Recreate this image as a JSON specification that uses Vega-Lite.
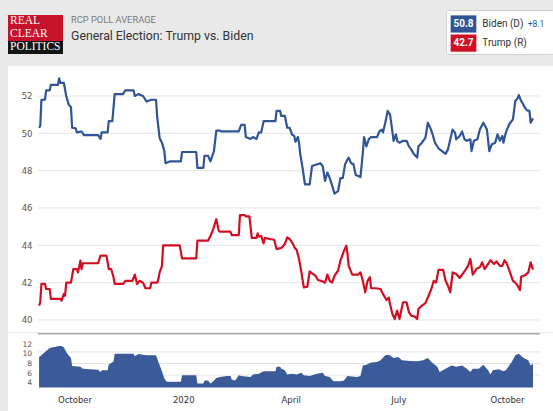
{
  "$schema": "https://vega.github.io/schema/vega-lite/v6.json",
  "background": "#e9e9e9",
  "padding": {"left": 8, "top": 9, "right": 0, "bottom": 0},
  "spacing": 0,
  "config": {"view": {"stroke": null}, "font": "Roboto", "axis": {"labelOverlap": false}},
  "datasets": {
    "logo": [{"word": "REAL"}, {"word": "CLEAR"}, {"word": "POLITICS"}],
    "legend": [
      {"candidate": "Biden (D)", "pct": "50.8", "lead": "+8.1"},
      {"candidate": "Trump (R)", "pct": "42.7", "lead": ""}
    ],
    "grid": [{"level": 40}, {"level": 42}, {"level": 44}, {"level": 46}, {"level": 48}, {"level": 50}, {"level": 52}],
    "spreadGrid": [{"level": 10.5}, {"level": 8.1}, {"level": 5.7}],
    "spreadTicks": [{"level": 4}, {"level": 6}, {"level": 8}, {"level": 10}, {"level": 12}],
    "polls": [
      {"date": "2019-09-01", "candidate": "Biden", "pct": 50.3},
      {"date": "2019-09-02", "candidate": "Biden", "pct": 50.4},
      {"date": "2019-09-03", "candidate": "Biden", "pct": 51.8},
      {"date": "2019-09-06", "candidate": "Biden", "pct": 51.8},
      {"date": "2019-09-07", "candidate": "Biden", "pct": 52.3},
      {"date": "2019-09-10", "candidate": "Biden", "pct": 52.3},
      {"date": "2019-09-11", "candidate": "Biden", "pct": 52.6},
      {"date": "2019-09-17", "candidate": "Biden", "pct": 52.6},
      {"date": "2019-09-18", "candidate": "Biden", "pct": 52.95},
      {"date": "2019-09-19", "candidate": "Biden", "pct": 52.7},
      {"date": "2019-09-22", "candidate": "Biden", "pct": 52.7},
      {"date": "2019-09-24", "candidate": "Biden", "pct": 52.0},
      {"date": "2019-09-26", "candidate": "Biden", "pct": 51.55},
      {"date": "2019-09-28", "candidate": "Biden", "pct": 51.4},
      {"date": "2019-09-29", "candidate": "Biden", "pct": 50.3},
      {"date": "2019-10-02", "candidate": "Biden", "pct": 50.27},
      {"date": "2019-10-03", "candidate": "Biden", "pct": 50.05},
      {"date": "2019-10-07", "candidate": "Biden", "pct": 50.1},
      {"date": "2019-10-09", "candidate": "Biden", "pct": 49.9},
      {"date": "2019-10-21", "candidate": "Biden", "pct": 49.9},
      {"date": "2019-10-23", "candidate": "Biden", "pct": 49.7},
      {"date": "2019-10-24", "candidate": "Biden", "pct": 50.05},
      {"date": "2019-10-29", "candidate": "Biden", "pct": 50.05},
      {"date": "2019-10-30", "candidate": "Biden", "pct": 50.65},
      {"date": "2019-11-02", "candidate": "Biden", "pct": 50.65},
      {"date": "2019-11-04", "candidate": "Biden", "pct": 52.1},
      {"date": "2019-11-11", "candidate": "Biden", "pct": 52.1},
      {"date": "2019-11-13", "candidate": "Biden", "pct": 52.3},
      {"date": "2019-11-20", "candidate": "Biden", "pct": 52.3},
      {"date": "2019-11-21", "candidate": "Biden", "pct": 52.0},
      {"date": "2019-11-24", "candidate": "Biden", "pct": 52.1},
      {"date": "2019-11-28", "candidate": "Biden", "pct": 52.0},
      {"date": "2019-12-01", "candidate": "Biden", "pct": 51.7},
      {"date": "2019-12-05", "candidate": "Biden", "pct": 51.8},
      {"date": "2019-12-09", "candidate": "Biden", "pct": 51.8},
      {"date": "2019-12-10", "candidate": "Biden", "pct": 50.85},
      {"date": "2019-12-12", "candidate": "Biden", "pct": 49.75},
      {"date": "2019-12-14", "candidate": "Biden", "pct": 49.5},
      {"date": "2019-12-16", "candidate": "Biden", "pct": 49.05},
      {"date": "2019-12-17", "candidate": "Biden", "pct": 48.4},
      {"date": "2019-12-21", "candidate": "Biden", "pct": 48.5},
      {"date": "2019-12-30", "candidate": "Biden", "pct": 48.5},
      {"date": "2019-12-31", "candidate": "Biden", "pct": 49.0},
      {"date": "2020-01-12", "candidate": "Biden", "pct": 49.0},
      {"date": "2020-01-13", "candidate": "Biden", "pct": 48.15},
      {"date": "2020-01-18", "candidate": "Biden", "pct": 48.15},
      {"date": "2020-01-19", "candidate": "Biden", "pct": 48.8},
      {"date": "2020-01-22", "candidate": "Biden", "pct": 48.8},
      {"date": "2020-01-24", "candidate": "Biden", "pct": 48.5},
      {"date": "2020-01-27", "candidate": "Biden", "pct": 49.05},
      {"date": "2020-01-29", "candidate": "Biden", "pct": 50.15},
      {"date": "2020-02-01", "candidate": "Biden", "pct": 50.15},
      {"date": "2020-02-02", "candidate": "Biden", "pct": 50.1},
      {"date": "2020-02-17", "candidate": "Biden", "pct": 50.1},
      {"date": "2020-02-19", "candidate": "Biden", "pct": 50.45},
      {"date": "2020-02-22", "candidate": "Biden", "pct": 50.45},
      {"date": "2020-02-23", "candidate": "Biden", "pct": 49.8},
      {"date": "2020-02-27", "candidate": "Biden", "pct": 49.7},
      {"date": "2020-02-29", "candidate": "Biden", "pct": 49.8},
      {"date": "2020-03-03", "candidate": "Biden", "pct": 49.7},
      {"date": "2020-03-05", "candidate": "Biden", "pct": 50.05},
      {"date": "2020-03-07", "candidate": "Biden", "pct": 50.05},
      {"date": "2020-03-09", "candidate": "Biden", "pct": 50.65},
      {"date": "2020-03-19", "candidate": "Biden", "pct": 50.65},
      {"date": "2020-03-20", "candidate": "Biden", "pct": 51.2},
      {"date": "2020-03-23", "candidate": "Biden", "pct": 51.2},
      {"date": "2020-03-24", "candidate": "Biden", "pct": 50.93},
      {"date": "2020-03-27", "candidate": "Biden", "pct": 50.93},
      {"date": "2020-03-29", "candidate": "Biden", "pct": 50.3},
      {"date": "2020-03-31", "candidate": "Biden", "pct": 50.3},
      {"date": "2020-04-02", "candidate": "Biden", "pct": 49.95},
      {"date": "2020-04-04", "candidate": "Biden", "pct": 49.85},
      {"date": "2020-04-05", "candidate": "Biden", "pct": 49.55},
      {"date": "2020-04-07", "candidate": "Biden", "pct": 49.8},
      {"date": "2020-04-08", "candidate": "Biden", "pct": 49.5},
      {"date": "2020-04-09", "candidate": "Biden", "pct": 48.9},
      {"date": "2020-04-11", "candidate": "Biden", "pct": 48.15},
      {"date": "2020-04-13", "candidate": "Biden", "pct": 47.27},
      {"date": "2020-04-17", "candidate": "Biden", "pct": 47.27},
      {"date": "2020-04-19", "candidate": "Biden", "pct": 48.25},
      {"date": "2020-04-26", "candidate": "Biden", "pct": 48.4},
      {"date": "2020-04-28", "candidate": "Biden", "pct": 48.25},
      {"date": "2020-04-30", "candidate": "Biden", "pct": 47.45},
      {"date": "2020-05-02", "candidate": "Biden", "pct": 47.9},
      {"date": "2020-05-04", "candidate": "Biden", "pct": 47.6},
      {"date": "2020-05-06", "candidate": "Biden", "pct": 47.2},
      {"date": "2020-05-08", "candidate": "Biden", "pct": 46.77},
      {"date": "2020-05-11", "candidate": "Biden", "pct": 46.9},
      {"date": "2020-05-13", "candidate": "Biden", "pct": 47.6},
      {"date": "2020-05-15", "candidate": "Biden", "pct": 47.6},
      {"date": "2020-05-17", "candidate": "Biden", "pct": 48.35},
      {"date": "2020-05-19", "candidate": "Biden", "pct": 48.6},
      {"date": "2020-05-20", "candidate": "Biden", "pct": 48.7},
      {"date": "2020-05-22", "candidate": "Biden", "pct": 48.4},
      {"date": "2020-05-24", "candidate": "Biden", "pct": 48.35},
      {"date": "2020-05-26", "candidate": "Biden", "pct": 47.77},
      {"date": "2020-05-30", "candidate": "Biden", "pct": 47.66},
      {"date": "2020-06-01", "candidate": "Biden", "pct": 48.96},
      {"date": "2020-06-02", "candidate": "Biden", "pct": 49.8},
      {"date": "2020-06-04", "candidate": "Biden", "pct": 49.3},
      {"date": "2020-06-06", "candidate": "Biden", "pct": 49.68},
      {"date": "2020-06-08", "candidate": "Biden", "pct": 49.8},
      {"date": "2020-06-13", "candidate": "Biden", "pct": 49.8},
      {"date": "2020-06-15", "candidate": "Biden", "pct": 50.1},
      {"date": "2020-06-17", "candidate": "Biden", "pct": 50.2},
      {"date": "2020-06-18", "candidate": "Biden", "pct": 50.05},
      {"date": "2020-06-20", "candidate": "Biden", "pct": 50.57},
      {"date": "2020-06-22", "candidate": "Biden", "pct": 51.2},
      {"date": "2020-06-24", "candidate": "Biden", "pct": 51.0},
      {"date": "2020-06-25", "candidate": "Biden", "pct": 50.57},
      {"date": "2020-06-27", "candidate": "Biden", "pct": 49.6},
      {"date": "2020-06-29", "candidate": "Biden", "pct": 49.95},
      {"date": "2020-06-30", "candidate": "Biden", "pct": 49.6},
      {"date": "2020-07-02", "candidate": "Biden", "pct": 49.5},
      {"date": "2020-07-05", "candidate": "Biden", "pct": 49.6},
      {"date": "2020-07-08", "candidate": "Biden", "pct": 49.6},
      {"date": "2020-07-10", "candidate": "Biden", "pct": 49.3},
      {"date": "2020-07-12", "candidate": "Biden", "pct": 49.14},
      {"date": "2020-07-14", "candidate": "Biden", "pct": 48.9},
      {"date": "2020-07-17", "candidate": "Biden", "pct": 48.7},
      {"date": "2020-07-18", "candidate": "Biden", "pct": 49.3},
      {"date": "2020-07-21", "candidate": "Biden", "pct": 49.5},
      {"date": "2020-07-24", "candidate": "Biden", "pct": 49.77},
      {"date": "2020-07-26", "candidate": "Biden", "pct": 50.57},
      {"date": "2020-07-28", "candidate": "Biden", "pct": 50.3},
      {"date": "2020-07-30", "candidate": "Biden", "pct": 49.95},
      {"date": "2020-08-01", "candidate": "Biden", "pct": 49.5},
      {"date": "2020-08-04", "candidate": "Biden", "pct": 49.2},
      {"date": "2020-08-07", "candidate": "Biden", "pct": 49.05},
      {"date": "2020-08-10", "candidate": "Biden", "pct": 48.9},
      {"date": "2020-08-12", "candidate": "Biden", "pct": 49.14},
      {"date": "2020-08-14", "candidate": "Biden", "pct": 49.68},
      {"date": "2020-08-16", "candidate": "Biden", "pct": 50.2},
      {"date": "2020-08-18", "candidate": "Biden", "pct": 50.04},
      {"date": "2020-08-19", "candidate": "Biden", "pct": 49.68},
      {"date": "2020-08-22", "candidate": "Biden", "pct": 49.86},
      {"date": "2020-08-24", "candidate": "Biden", "pct": 50.1},
      {"date": "2020-08-26", "candidate": "Biden", "pct": 49.68},
      {"date": "2020-08-28", "candidate": "Biden", "pct": 49.6},
      {"date": "2020-08-31", "candidate": "Biden", "pct": 49.68},
      {"date": "2020-09-01", "candidate": "Biden", "pct": 49.05},
      {"date": "2020-09-03", "candidate": "Biden", "pct": 49.6},
      {"date": "2020-09-06", "candidate": "Biden", "pct": 49.68},
      {"date": "2020-09-08", "candidate": "Biden", "pct": 50.2},
      {"date": "2020-09-11", "candidate": "Biden", "pct": 50.57},
      {"date": "2020-09-14", "candidate": "Biden", "pct": 50.2},
      {"date": "2020-09-16", "candidate": "Biden", "pct": 49.05},
      {"date": "2020-09-18", "candidate": "Biden", "pct": 49.4},
      {"date": "2020-09-21", "candidate": "Biden", "pct": 49.5},
      {"date": "2020-09-23", "candidate": "Biden", "pct": 49.95},
      {"date": "2020-09-25", "candidate": "Biden", "pct": 49.6},
      {"date": "2020-09-27", "candidate": "Biden", "pct": 49.86},
      {"date": "2020-09-28", "candidate": "Biden", "pct": 49.5},
      {"date": "2020-09-30", "candidate": "Biden", "pct": 50.04},
      {"date": "2020-10-03", "candidate": "Biden", "pct": 50.5},
      {"date": "2020-10-06", "candidate": "Biden", "pct": 50.75},
      {"date": "2020-10-08", "candidate": "Biden", "pct": 51.73},
      {"date": "2020-10-10", "candidate": "Biden", "pct": 51.88},
      {"date": "2020-10-11", "candidate": "Biden", "pct": 52.05},
      {"date": "2020-10-13", "candidate": "Biden", "pct": 51.73},
      {"date": "2020-10-14", "candidate": "Biden", "pct": 51.64},
      {"date": "2020-10-16", "candidate": "Biden", "pct": 51.38},
      {"date": "2020-10-18", "candidate": "Biden", "pct": 51.23},
      {"date": "2020-10-20", "candidate": "Biden", "pct": 51.2},
      {"date": "2020-10-21", "candidate": "Biden", "pct": 50.57},
      {"date": "2020-10-23", "candidate": "Biden", "pct": 50.8},
      {"date": "2019-09-01", "candidate": "Trump", "pct": 40.77},
      {"date": "2019-09-02", "candidate": "Trump", "pct": 40.95},
      {"date": "2019-09-03", "candidate": "Trump", "pct": 41.93},
      {"date": "2019-09-06", "candidate": "Trump", "pct": 41.93},
      {"date": "2019-09-07", "candidate": "Trump", "pct": 41.66},
      {"date": "2019-09-10", "candidate": "Trump", "pct": 41.66},
      {"date": "2019-09-11", "candidate": "Trump", "pct": 41.13},
      {"date": "2019-09-19", "candidate": "Trump", "pct": 41.13},
      {"date": "2019-09-20", "candidate": "Trump", "pct": 41.04},
      {"date": "2019-09-22", "candidate": "Trump", "pct": 41.4},
      {"date": "2019-09-23", "candidate": "Trump", "pct": 41.3},
      {"date": "2019-09-24", "candidate": "Trump", "pct": 42.0},
      {"date": "2019-09-28", "candidate": "Trump", "pct": 42.0},
      {"date": "2019-09-30", "candidate": "Trump", "pct": 42.73},
      {"date": "2019-10-03", "candidate": "Trump", "pct": 42.73},
      {"date": "2019-10-04", "candidate": "Trump", "pct": 42.55},
      {"date": "2019-10-06", "candidate": "Trump", "pct": 43.18},
      {"date": "2019-10-07", "candidate": "Trump", "pct": 42.73},
      {"date": "2019-10-08", "candidate": "Trump", "pct": 43.04},
      {"date": "2019-10-21", "candidate": "Trump", "pct": 43.04},
      {"date": "2019-10-23", "candidate": "Trump", "pct": 43.45},
      {"date": "2019-10-28", "candidate": "Trump", "pct": 43.45},
      {"date": "2019-10-30", "candidate": "Trump", "pct": 42.73},
      {"date": "2019-11-01", "candidate": "Trump", "pct": 42.73},
      {"date": "2019-11-03", "candidate": "Trump", "pct": 42.3},
      {"date": "2019-11-04", "candidate": "Trump", "pct": 41.93},
      {"date": "2019-11-11", "candidate": "Trump", "pct": 41.93},
      {"date": "2019-11-13", "candidate": "Trump", "pct": 42.1},
      {"date": "2019-11-19", "candidate": "Trump", "pct": 42.1},
      {"date": "2019-11-21", "candidate": "Trump", "pct": 42.43},
      {"date": "2019-11-23", "candidate": "Trump", "pct": 41.93},
      {"date": "2019-11-25", "candidate": "Trump", "pct": 42.1},
      {"date": "2019-11-28", "candidate": "Trump", "pct": 42.0},
      {"date": "2019-11-30", "candidate": "Trump", "pct": 41.7},
      {"date": "2019-12-04", "candidate": "Trump", "pct": 41.7},
      {"date": "2019-12-05", "candidate": "Trump", "pct": 42.0},
      {"date": "2019-12-10", "candidate": "Trump", "pct": 42.0},
      {"date": "2019-12-11", "candidate": "Trump", "pct": 42.2},
      {"date": "2019-12-12", "candidate": "Trump", "pct": 42.55},
      {"date": "2019-12-14", "candidate": "Trump", "pct": 42.9},
      {"date": "2019-12-15", "candidate": "Trump", "pct": 44.0},
      {"date": "2019-12-29", "candidate": "Trump", "pct": 44.0},
      {"date": "2019-12-31", "candidate": "Trump", "pct": 43.3},
      {"date": "2020-01-12", "candidate": "Trump", "pct": 43.3},
      {"date": "2020-01-13", "candidate": "Trump", "pct": 44.25},
      {"date": "2020-01-22", "candidate": "Trump", "pct": 44.25},
      {"date": "2020-01-24", "candidate": "Trump", "pct": 44.5},
      {"date": "2020-01-26", "candidate": "Trump", "pct": 44.8},
      {"date": "2020-01-29", "candidate": "Trump", "pct": 45.4},
      {"date": "2020-01-31", "candidate": "Trump", "pct": 44.8},
      {"date": "2020-02-01", "candidate": "Trump", "pct": 44.73},
      {"date": "2020-02-10", "candidate": "Trump", "pct": 44.73},
      {"date": "2020-02-11", "candidate": "Trump", "pct": 44.55},
      {"date": "2020-02-17", "candidate": "Trump", "pct": 44.55},
      {"date": "2020-02-18", "candidate": "Trump", "pct": 45.62},
      {"date": "2020-02-22", "candidate": "Trump", "pct": 45.62},
      {"date": "2020-02-23", "candidate": "Trump", "pct": 45.55},
      {"date": "2020-02-26", "candidate": "Trump", "pct": 45.55},
      {"date": "2020-02-28", "candidate": "Trump", "pct": 44.4},
      {"date": "2020-03-03", "candidate": "Trump", "pct": 44.4},
      {"date": "2020-03-04", "candidate": "Trump", "pct": 44.64},
      {"date": "2020-03-05", "candidate": "Trump", "pct": 44.46},
      {"date": "2020-03-07", "candidate": "Trump", "pct": 44.5},
      {"date": "2020-03-09", "candidate": "Trump", "pct": 44.1},
      {"date": "2020-03-10", "candidate": "Trump", "pct": 44.4},
      {"date": "2020-03-14", "candidate": "Trump", "pct": 44.34},
      {"date": "2020-03-18", "candidate": "Trump", "pct": 44.3},
      {"date": "2020-03-20", "candidate": "Trump", "pct": 43.8},
      {"date": "2020-03-24", "candidate": "Trump", "pct": 43.86},
      {"date": "2020-03-27", "candidate": "Trump", "pct": 44.07},
      {"date": "2020-03-29", "candidate": "Trump", "pct": 44.43},
      {"date": "2020-03-31", "candidate": "Trump", "pct": 44.34},
      {"date": "2020-04-03", "candidate": "Trump", "pct": 44.07},
      {"date": "2020-04-04", "candidate": "Trump", "pct": 43.9},
      {"date": "2020-04-06", "candidate": "Trump", "pct": 43.75},
      {"date": "2020-04-08", "candidate": "Trump", "pct": 43.27},
      {"date": "2020-04-10", "candidate": "Trump", "pct": 42.55},
      {"date": "2020-04-12", "candidate": "Trump", "pct": 41.75},
      {"date": "2020-04-15", "candidate": "Trump", "pct": 41.78},
      {"date": "2020-04-17", "candidate": "Trump", "pct": 42.6},
      {"date": "2020-04-19", "candidate": "Trump", "pct": 42.5},
      {"date": "2020-04-22", "candidate": "Trump", "pct": 42.37},
      {"date": "2020-04-24", "candidate": "Trump", "pct": 42.14},
      {"date": "2020-04-28", "candidate": "Trump", "pct": 42.07},
      {"date": "2020-04-30", "candidate": "Trump", "pct": 42.0},
      {"date": "2020-05-02", "candidate": "Trump", "pct": 42.43},
      {"date": "2020-05-04", "candidate": "Trump", "pct": 42.1},
      {"date": "2020-05-06", "candidate": "Trump", "pct": 42.0},
      {"date": "2020-05-08", "candidate": "Trump", "pct": 42.37},
      {"date": "2020-05-11", "candidate": "Trump", "pct": 42.64},
      {"date": "2020-05-13", "candidate": "Trump", "pct": 43.18},
      {"date": "2020-05-16", "candidate": "Trump", "pct": 43.7},
      {"date": "2020-05-18", "candidate": "Trump", "pct": 43.98},
      {"date": "2020-05-19", "candidate": "Trump", "pct": 43.57},
      {"date": "2020-05-20", "candidate": "Trump", "pct": 42.9},
      {"date": "2020-05-23", "candidate": "Trump", "pct": 42.43},
      {"date": "2020-05-28", "candidate": "Trump", "pct": 42.43},
      {"date": "2020-05-30", "candidate": "Trump", "pct": 42.55},
      {"date": "2020-06-01", "candidate": "Trump", "pct": 42.1},
      {"date": "2020-06-03", "candidate": "Trump", "pct": 41.48},
      {"date": "2020-06-05", "candidate": "Trump", "pct": 42.1},
      {"date": "2020-06-07", "candidate": "Trump", "pct": 42.3},
      {"date": "2020-06-08", "candidate": "Trump", "pct": 41.7},
      {"date": "2020-06-12", "candidate": "Trump", "pct": 41.7},
      {"date": "2020-06-16", "candidate": "Trump", "pct": 41.66},
      {"date": "2020-06-18", "candidate": "Trump", "pct": 41.4},
      {"date": "2020-06-21", "candidate": "Trump", "pct": 41.07},
      {"date": "2020-06-23", "candidate": "Trump", "pct": 41.2},
      {"date": "2020-06-24", "candidate": "Trump", "pct": 40.86},
      {"date": "2020-06-26", "candidate": "Trump", "pct": 40.32},
      {"date": "2020-06-28", "candidate": "Trump", "pct": 40.05},
      {"date": "2020-06-30", "candidate": "Trump", "pct": 40.5},
      {"date": "2020-07-02", "candidate": "Trump", "pct": 40.05},
      {"date": "2020-07-05", "candidate": "Trump", "pct": 40.95},
      {"date": "2020-07-08", "candidate": "Trump", "pct": 40.95},
      {"date": "2020-07-10", "candidate": "Trump", "pct": 40.41},
      {"date": "2020-07-12", "candidate": "Trump", "pct": 40.23},
      {"date": "2020-07-15", "candidate": "Trump", "pct": 40.18},
      {"date": "2020-07-17", "candidate": "Trump", "pct": 40.05},
      {"date": "2020-07-18", "candidate": "Trump", "pct": 40.59},
      {"date": "2020-07-21", "candidate": "Trump", "pct": 40.77},
      {"date": "2020-07-24", "candidate": "Trump", "pct": 40.9},
      {"date": "2020-07-26", "candidate": "Trump", "pct": 41.2},
      {"date": "2020-07-29", "candidate": "Trump", "pct": 41.66},
      {"date": "2020-07-31", "candidate": "Trump", "pct": 42.1},
      {"date": "2020-08-02", "candidate": "Trump", "pct": 42.0},
      {"date": "2020-08-04", "candidate": "Trump", "pct": 42.68},
      {"date": "2020-08-08", "candidate": "Trump", "pct": 42.68},
      {"date": "2020-08-10", "candidate": "Trump", "pct": 42.1},
      {"date": "2020-08-12", "candidate": "Trump", "pct": 41.84},
      {"date": "2020-08-14", "candidate": "Trump", "pct": 41.48},
      {"date": "2020-08-16", "candidate": "Trump", "pct": 42.55},
      {"date": "2020-08-19", "candidate": "Trump", "pct": 42.46},
      {"date": "2020-08-22", "candidate": "Trump", "pct": 42.25},
      {"date": "2020-08-24", "candidate": "Trump", "pct": 42.43},
      {"date": "2020-08-26", "candidate": "Trump", "pct": 42.6},
      {"date": "2020-08-29", "candidate": "Trump", "pct": 42.9},
      {"date": "2020-08-31", "candidate": "Trump", "pct": 43.27},
      {"date": "2020-09-02", "candidate": "Trump", "pct": 42.43},
      {"date": "2020-09-05", "candidate": "Trump", "pct": 42.73},
      {"date": "2020-09-08", "candidate": "Trump", "pct": 42.82},
      {"date": "2020-09-10", "candidate": "Trump", "pct": 43.09},
      {"date": "2020-09-12", "candidate": "Trump", "pct": 42.73},
      {"date": "2020-09-15", "candidate": "Trump", "pct": 43.0},
      {"date": "2020-09-17", "candidate": "Trump", "pct": 43.2},
      {"date": "2020-09-20", "candidate": "Trump", "pct": 43.0},
      {"date": "2020-09-22", "candidate": "Trump", "pct": 43.14},
      {"date": "2020-09-25", "candidate": "Trump", "pct": 42.9},
      {"date": "2020-09-27", "candidate": "Trump", "pct": 42.9},
      {"date": "2020-09-29", "candidate": "Trump", "pct": 43.2},
      {"date": "2020-10-01", "candidate": "Trump", "pct": 43.0},
      {"date": "2020-10-03", "candidate": "Trump", "pct": 42.64},
      {"date": "2020-10-06", "candidate": "Trump", "pct": 42.1},
      {"date": "2020-10-08", "candidate": "Trump", "pct": 42.0},
      {"date": "2020-10-10", "candidate": "Trump", "pct": 41.84},
      {"date": "2020-10-12", "candidate": "Trump", "pct": 41.6},
      {"date": "2020-10-13", "candidate": "Trump", "pct": 42.32},
      {"date": "2020-10-17", "candidate": "Trump", "pct": 42.43},
      {"date": "2020-10-19", "candidate": "Trump", "pct": 42.55},
      {"date": "2020-10-21", "candidate": "Trump", "pct": 43.09},
      {"date": "2020-10-23", "candidate": "Trump", "pct": 42.7}
    ],
    "spread": [
      {"date": "2019-09-01", "spread": 9.45},
      {"date": "2019-09-03", "spread": 9.8},
      {"date": "2019-09-06", "spread": 10.5},
      {"date": "2019-09-10", "spread": 11.3},
      {"date": "2019-09-18", "spread": 11.7},
      {"date": "2019-09-20", "spread": 11.7},
      {"date": "2019-09-22", "spread": 11.4},
      {"date": "2019-09-24", "spread": 10.5},
      {"date": "2019-09-26", "spread": 9.8},
      {"date": "2019-09-28", "spread": 9.25},
      {"date": "2019-09-29", "spread": 7.6},
      {"date": "2019-10-06", "spread": 7.4},
      {"date": "2019-10-08", "spread": 7.0},
      {"date": "2019-10-21", "spread": 6.8},
      {"date": "2019-10-23", "spread": 6.35},
      {"date": "2019-10-24", "spread": 6.7},
      {"date": "2019-10-29", "spread": 6.7},
      {"date": "2019-10-30", "spread": 7.9},
      {"date": "2019-11-03", "spread": 8.5},
      {"date": "2019-11-04", "spread": 10.1},
      {"date": "2019-11-20", "spread": 10.1},
      {"date": "2019-11-21", "spread": 9.6},
      {"date": "2019-11-24", "spread": 10.07},
      {"date": "2019-11-28", "spread": 9.9},
      {"date": "2019-12-01", "spread": 9.8},
      {"date": "2019-12-09", "spread": 9.8},
      {"date": "2019-12-11", "spread": 8.4},
      {"date": "2019-12-14", "spread": 6.5},
      {"date": "2019-12-16", "spread": 4.97},
      {"date": "2019-12-18", "spread": 4.3},
      {"date": "2019-12-30", "spread": 4.3},
      {"date": "2019-12-31", "spread": 5.65},
      {"date": "2020-01-12", "spread": 5.65},
      {"date": "2020-01-13", "spread": 3.95},
      {"date": "2020-01-18", "spread": 3.95},
      {"date": "2020-01-19", "spread": 4.6},
      {"date": "2020-01-22", "spread": 4.6},
      {"date": "2020-01-24", "spread": 3.95},
      {"date": "2020-01-26", "spread": 4.3},
      {"date": "2020-01-29", "spread": 5.1},
      {"date": "2020-02-01", "spread": 5.3},
      {"date": "2020-02-07", "spread": 5.5},
      {"date": "2020-02-10", "spread": 5.5},
      {"date": "2020-02-11", "spread": 4.8},
      {"date": "2020-02-14", "spread": 4.6},
      {"date": "2020-02-17", "spread": 5.65},
      {"date": "2020-02-19", "spread": 5.5},
      {"date": "2020-02-27", "spread": 5.3},
      {"date": "2020-02-29", "spread": 5.8},
      {"date": "2020-03-05", "spread": 6.0},
      {"date": "2020-03-09", "spread": 6.5},
      {"date": "2020-03-19", "spread": 6.5},
      {"date": "2020-03-20", "spread": 7.4},
      {"date": "2020-03-23", "spread": 7.4},
      {"date": "2020-03-24", "spread": 7.0},
      {"date": "2020-03-27", "spread": 6.7},
      {"date": "2020-03-29", "spread": 5.8},
      {"date": "2020-04-02", "spread": 6.0},
      {"date": "2020-04-06", "spread": 5.8},
      {"date": "2020-04-10", "spread": 6.2},
      {"date": "2020-04-12", "spread": 5.65},
      {"date": "2020-04-17", "spread": 5.5},
      {"date": "2020-04-23", "spread": 6.0},
      {"date": "2020-04-28", "spread": 6.2},
      {"date": "2020-04-30", "spread": 5.5},
      {"date": "2020-05-04", "spread": 5.3},
      {"date": "2020-05-07", "spread": 4.4},
      {"date": "2020-05-13", "spread": 4.4},
      {"date": "2020-05-16", "spread": 4.6},
      {"date": "2020-05-19", "spread": 5.5},
      {"date": "2020-05-27", "spread": 5.3},
      {"date": "2020-05-30", "spread": 5.5},
      {"date": "2020-06-01", "spread": 7.7},
      {"date": "2020-06-04", "spread": 7.86},
      {"date": "2020-06-08", "spread": 8.3},
      {"date": "2020-06-13", "spread": 8.4},
      {"date": "2020-06-16", "spread": 8.76},
      {"date": "2020-06-20", "spread": 9.8},
      {"date": "2020-06-23", "spread": 9.93},
      {"date": "2020-06-27", "spread": 9.24},
      {"date": "2020-07-01", "spread": 9.45},
      {"date": "2020-07-04", "spread": 8.76},
      {"date": "2020-07-11", "spread": 8.6},
      {"date": "2020-07-17", "spread": 8.55},
      {"date": "2020-07-22", "spread": 8.76},
      {"date": "2020-07-26", "spread": 9.24},
      {"date": "2020-07-29", "spread": 8.4},
      {"date": "2020-08-03", "spread": 7.4},
      {"date": "2020-08-05", "spread": 6.35},
      {"date": "2020-08-10", "spread": 7.0},
      {"date": "2020-08-15", "spread": 7.7},
      {"date": "2020-08-19", "spread": 7.4},
      {"date": "2020-08-24", "spread": 7.7},
      {"date": "2020-08-28", "spread": 7.0},
      {"date": "2020-08-31", "spread": 6.35},
      {"date": "2020-09-02", "spread": 7.0},
      {"date": "2020-09-07", "spread": 7.0},
      {"date": "2020-09-11", "spread": 7.86},
      {"date": "2020-09-15", "spread": 6.7},
      {"date": "2020-09-17", "spread": 5.8},
      {"date": "2020-09-19", "spread": 6.7},
      {"date": "2020-09-24", "spread": 6.9},
      {"date": "2020-09-28", "spread": 6.5},
      {"date": "2020-09-30", "spread": 6.7},
      {"date": "2020-10-05", "spread": 8.4},
      {"date": "2020-10-08", "spread": 9.8},
      {"date": "2020-10-11", "spread": 10.1},
      {"date": "2020-10-15", "spread": 9.24},
      {"date": "2020-10-19", "spread": 8.76},
      {"date": "2020-10-21", "spread": 7.7},
      {"date": "2020-10-23", "spread": 8.1}
    ]
  },
  "vconcat": [
    {
      "spacing": 8,
      "hconcat": [
        {
          "width": 55,
          "height": 56,
          "data": {"name": "logo"},
          "encoding": {
            "y": {"field": "word", "type": "nominal", "sort": null, "axis": null,
                  "scale": {"paddingInner": 0, "paddingOuter": 0.654, "align": 0.294}}
          },
          "layer": [
            {
              "mark": {"type": "rect"},
              "encoding": {
                "color": {"condition": {"test": "datum.word === 'POLITICS'", "value": "#141414"}, "value": "#c8122a"}
              }
            },
            {
              "mark": {"type": "text", "align": "left", "dx": -25.5, "font": "Liberation Serif", "fontSize": 11.5, "color": "#ffffff"},
              "encoding": {"text": {"field": "word"}}
            }
          ]
        },
        {
          "width": 366,
          "height": 6,
          "data": {"values": []},
          "mark": "point",
          "title": {
            "text": "RCP POLL AVERAGE",
            "subtitle": "General Election: Trump vs. Biden",
            "orient": "bottom",
            "anchor": "start",
            "offset": 0,
            "font": "Roboto",
            "fontSize": 9.3,
            "fontWeight": "normal",
            "color": "#7a7a7a",
            "subtitleFont": "Roboto",
            "subtitleFontSize": 12.3,
            "subtitleColor": "#333333",
            "subtitlePadding": 5
          }
        },
        {
          "width": 108,
          "height": 44,
          "view": {"fill": "#ffffff", "stroke": "#d0d0d0", "cornerRadius": 3},
          "data": {"name": "legend"},
          "encoding": {
            "y": {"field": "candidate", "type": "nominal", "sort": null, "axis": null,
                  "scale": {"paddingInner": 0.1, "paddingOuter": 0.2, "align": 0.7}}
          },
          "layer": [
            {
              "mark": {"type": "rect"},
              "encoding": {
                "x": {"datum": "value", "type": "nominal", "axis": null,
                      "scale": {"type": "band", "domain": ["value", "name", "more", "lead"], "paddingInner": 0, "paddingOuter": 0.1, "align": 0.9}},
                "color": {"field": "candidate", "type": "nominal",
                          "scale": {"domain": ["Biden (D)", "Trump (R)"], "range": ["#2f5597", "#d20f22"]}, "legend": null}
              }
            },
            {
              "mark": {"type": "text", "align": "center", "font": "Roboto", "fontSize": 10, "fontWeight": "bold", "color": "#ffffff"},
              "encoding": {
                "x": {"datum": "value", "type": "nominal", "axis": null},
                "text": {"field": "pct"}
              }
            },
            {
              "mark": {"type": "text", "align": "left", "dx": 6, "font": "Roboto", "fontSize": 10, "color": "#333333"},
              "encoding": {
                "x": {"datum": "name", "type": "nominal", "bandPosition": 0, "axis": null},
                "text": {"field": "candidate"}
              }
            },
            {
              "mark": {"type": "text", "align": "left", "font": "Roboto", "fontSize": 8.5, "color": "#2f5597"},
              "encoding": {
                "x": {"datum": "lead", "type": "nominal", "bandPosition": 0, "axis": null},
                "text": {"field": "lead"}
              }
            }
          ]
        }
      ]
    },
    {
      "width": 545,
      "height": 266,
      "view": {"fill": "#ffffff"},
      "layer": [
        {
          "data": {"name": "grid"},
          "mark": {"type": "rule", "color": "#e4e4e4", "strokeWidth": 1},
          "encoding": {
            "y": {"field": "level", "type": "quantitative", "scale": {"domain": [39.357, 53.607], "nice": false, "zero": false}},
            "x": {"datum": {"year": 2019, "month": 8, "date": 31}, "type": "temporal",
                  "scale": {"domain": [{"year": 2019, "month": 8, "date": 5, "hours": 17}, {"year": 2020, "month": 11, "date": 8, "hours": 22}]}, "axis": null},
            "x2": {"datum": {"year": 2020, "month": 10, "date": 29}}
          }
        },
        {
          "data": {"name": "polls"},
          "mark": {"type": "line", "strokeWidth": 2.2, "strokeJoin": "round"},
          "encoding": {
            "x": {"field": "date", "type": "temporal",
                  "scale": {"domain": [{"year": 2019, "month": 8, "date": 5, "hours": 17}, {"year": 2020, "month": 11, "date": 8, "hours": 22}]}, "axis": null},
            "y": {"field": "pct", "type": "quantitative", "scale": {"domain": [39.357, 53.607], "nice": false, "zero": false},
                  "axis": {"values": [40, 42, 44, 46, 48, 50, 52], "offset": -26, "labelPadding": 2, "tickSize": 0, "ticks": false, "domain": false, "grid": false, "title": null,
                           "labelFont": "DejaVu Sans", "labelFontSize": 8.5, "labelColor": "#555555"}},
            "color": {"field": "candidate", "type": "nominal",
                      "scale": {"domain": ["Biden", "Trump"], "range": ["#34569b", "#d3101f"]}, "legend": null}
          }
        }
      ]
    },
    {
      "width": 545,
      "height": 80,
      "view": {"fill": "#ffffff"},
      "layer": [
        {
          "data": {"name": "spreadGrid"},
          "mark": {"type": "rule", "color": "#e4e4e4", "strokeWidth": 1},
          "encoding": {
            "y": {"field": "level", "type": "quantitative", "scale": {"domain": [-2.16, 14.42], "nice": false, "zero": false}, "axis": null},
            "x": {"datum": {"year": 2019, "month": 8, "date": 31}, "type": "temporal",
                  "scale": {"domain": [{"year": 2019, "month": 8, "date": 5, "hours": 17}, {"year": 2020, "month": 11, "date": 8, "hours": 22}]}},
            "x2": {"datum": {"year": 2020, "month": 10, "date": 29}}
          }
        },
        {
          "data": {"values": [{}]},
          "mark": {"type": "rule", "color": "#ababab", "strokeWidth": 1.5},
          "encoding": {
            "y": {"datum": 14.27, "type": "quantitative", "axis": null},
            "x": {"datum": {"year": 2019, "month": 8, "date": 31}, "type": "temporal"},
            "x2": {"datum": {"year": 2020, "month": 10, "date": 29}}
          }
        },
        {
          "data": {"name": "spreadTicks"},
          "mark": {"type": "text", "align": "right", "baseline": "middle", "font": "DejaVu Sans", "fontSize": 7.5, "color": "#555555"},
          "encoding": {
            "y": {"field": "level", "type": "quantitative", "axis": null},
            "x": {"datum": {"year": 2019, "month": 8, "date": 26}, "type": "temporal"},
            "text": {"field": "level"}
          }
        },
        {
          "data": {"name": "spread"},
          "mark": {"type": "area", "color": "#3b5a9a", "opacity": 1},
          "encoding": {
            "x": {"field": "date", "type": "temporal",
                  "scale": {"domain": [{"year": 2019, "month": 8, "date": 5, "hours": 17}, {"year": 2020, "month": 11, "date": 8, "hours": 22}]},
                  "axis": {
                    "values": [
                      {"year": 2019, "month": 10, "date": 1},
                      {"year": 2020, "month": 1, "date": 1},
                      {"year": 2020, "month": 4, "date": 1},
                      {"year": 2020, "month": 7, "date": 1},
                      {"year": 2020, "month": 10, "date": 1}
                    ],
                    "labelExpr": "month(datum.value) == 0 ? timeFormat(datum.value, '%Y') : timeFormat(datum.value, '%B')",
                    "offset": -16, "labelPadding": 2, "tickSize": 0, "ticks": false, "domain": false, "grid": false, "title": null,
                    "labelBaseline": "middle", "labelFont": "DejaVu Sans", "labelFontSize": 8.5, "labelColor": "#333333"
                  }},
            "y": {"field": "spread", "type": "quantitative", "scale": {"domain": [-2.16, 14.42], "nice": false, "zero": false}, "axis": null},
            "y2": {"datum": 3.1}
          }
        }
      ]
    }
  ]
}
